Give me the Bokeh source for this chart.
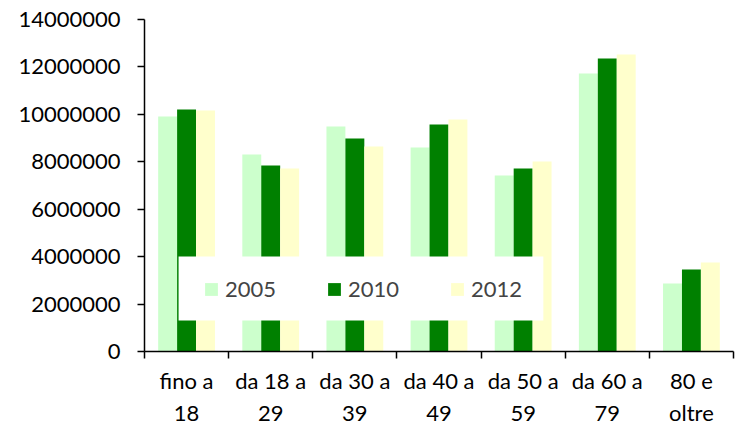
import numpy as np
from bokeh.plotting import figure
from bokeh.models import (ColumnDataSource, Range1d, FixedTicker, Legend, LegendItem,
                          BasicTickFormatter, BoxAnnotation)
from bokeh.embed import file_html
from bokeh.resources import INLINE

categories = ["fino a\n18", "da 18 a\n29", "da 30 a\n39", "da 40 a\n49",
              "da 50 a\n59", "da 60 a\n79", "80 e\noltre"]
years = ["2005", "2010", "2012"]
v2005 = [9910000, 8310000, 9490000, 8600000, 7420000, 11720000, 2870000]
v2010 = [10200000, 7840000, 8980000, 9570000, 7720000, 12360000, 3460000]
v2012 = [10160000, 7720000, 8640000, 9780000, 8010000, 12520000, 3750000]
y_ticks = [0, 2000000, 4000000, 6000000, 8000000, 10000000, 12000000, 14000000]
colors = ["#CCFFCC", "#008000", "#FFFFCC"]

FONT = "Lato"
FS = "22px"
n = len(categories)
xpos = np.arange(n) + 0.5

p = figure(width=735, height=428, output_backend="svg", toolbar_location=None,
           x_range=Range1d(0, n), y_range=Range1d(0, y_ticks[-1]),
           min_border_left=144, min_border_right=2, min_border_top=19,
           min_border_bottom=77)
p.outline_line_color = None
p.xgrid.grid_line_color = None
p.ygrid.grid_line_color = None
p.background_fill_color = "white"

bw = 0.225
offsets = [-bw, 0.0, bw]
renderers = []
for yr, vals, col, off in zip(years, [v2005, v2010, v2012], colors, offsets):
    src = ColumnDataSource(dict(x=xpos + off, top=vals))
    r = p.vbar(x="x", top="top", width=bw, source=src, fill_color=col, line_color=None)
    renderers.append((yr, r))

# axes
xa = p.xaxis[0]
xa.ticker = FixedTicker(ticks=list(xpos), minor_ticks=list(np.arange(n + 1)))
xa.major_label_overrides = {float(x): c for x, c in zip(xpos, categories)}
xa.major_tick_line_color = None
xa.minor_tick_line_color = "black"
xa.minor_tick_line_width = 1.5
xa.minor_tick_out = 7
xa.minor_tick_in = 0
xa.axis_line_color = "black"
xa.axis_line_width = 1.5
xa.major_label_text_font = FONT
xa.major_label_text_font_size = FS
xa.major_label_text_color = "black"
xa.major_label_standoff = 8

ya = p.yaxis[0]
ya.ticker = FixedTicker(ticks=y_ticks)
ya.formatter = BasicTickFormatter(use_scientific=False)
ya.major_tick_line_color = "black"
ya.major_tick_line_width = 1.5
ya.major_tick_out = 7
ya.major_tick_in = 0
ya.minor_tick_line_color = None
ya.axis_line_color = "black"
ya.axis_line_width = 1.5
ya.major_label_text_font = FONT
ya.major_label_text_font_size = FS
ya.major_label_text_color = "black"
ya.major_label_standoff = 17

# white legend background box (layout, in frame units)
box = BoxAnnotation(left=0.405, right=4.74, bottom=1307000, top=4006000,
                    fill_color="white", fill_alpha=1.0, line_color=None)
p.add_layout(box)

legend = Legend(items=[LegendItem(label=yr, renderers=[r]) for yr, r in renderers],
                orientation="horizontal", location=(59, 49),
                glyph_width=16, glyph_height=16, label_standoff=6,
                spacing=50, padding=0, margin=0,
                label_text_font=FONT, label_text_font_size=FS,
                border_line_color=None, background_fill_color="white",
                background_fill_alpha=1.0)
p.add_layout(legend, "center")

open("out.html", "w").write(file_html(p, INLINE))
